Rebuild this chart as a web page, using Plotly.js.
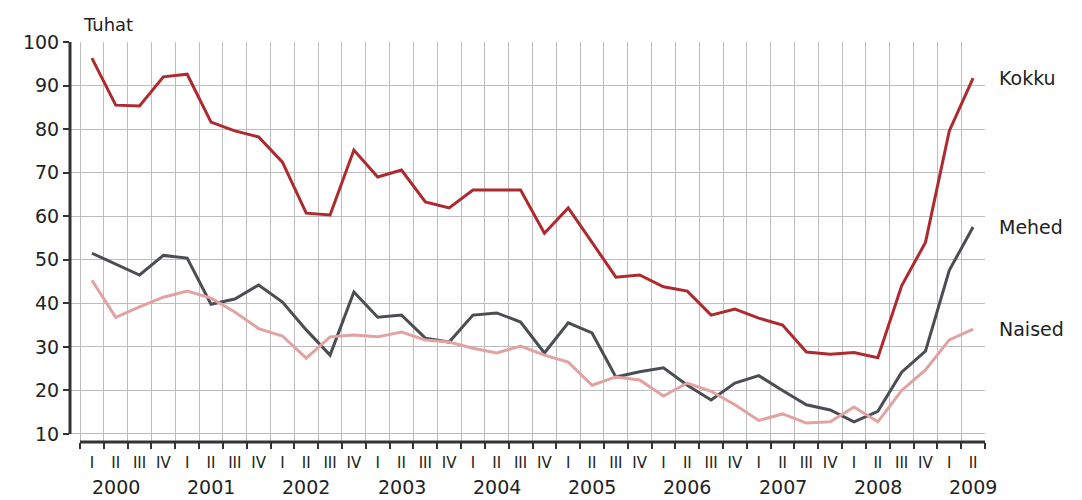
<!DOCTYPE html>
<html>
<head>
<meta charset="utf-8">
<script src="https://cdn.plot.ly/plotly-3.0.1.min.js"></script>
<style>html,body{margin:0;padding:0;background:#fff;}#chart{width:1082px;height:500px;}</style>
</head>
<body>
<div id="chart"></div>
<script>
// Data: quarterly, 2000 Q1 .. 2009 Q2 (thousands)
const years = ["2000","2001","2002","2003","2004","2005","2006","2007","2008","2009"];
const quarterNames = ["I","II","III","IV"];
const kokku = [96.3, 85.5, 85.3, 92.0, 92.6, 81.6, 79.6, 78.2, 72.4, 60.7, 60.3, 75.2,
               69.0, 70.6, 63.3, 61.9, 66.0, 66.0, 66.0, 56.1, 61.9, 54.0, 46.0, 46.5,
               43.8, 42.8, 37.3, 38.7, 36.6, 35.0, 28.8, 28.3, 28.7, 27.5, 44.0, 54.0,
               79.6, 91.7];
const mehed = [51.5, 49.0, 46.5, 51.0, 50.4, 39.8, 41.0, 44.2, 40.3, 33.9, 28.1, 42.6,
               36.8, 37.3, 32.0, 31.1, 37.3, 37.8, 35.7, 28.6, 35.5, 33.2, 23.1, 24.3,
               25.2, 21.2, 17.8, 21.7, 23.4, 20.0, 16.7, 15.5, 12.8, 15.2, 24.2, 29.0,
               47.6, 57.5];
const naised = [45.3, 36.8, 39.2, 41.4, 42.8, 41.2, 38.0, 34.2, 32.5, 27.4, 32.3, 32.7,
                32.3, 33.4, 31.6, 31.1, 29.7, 28.6, 30.2, 28.1, 26.5, 21.2, 23.1, 22.4,
                18.7, 21.7, 19.8, 16.7, 13.1, 14.6, 12.5, 12.8, 16.2, 12.8, 20.0, 24.7,
                31.6, 34.1];
const seriesNames = ["Kokku", "Mehed", "Naised"];
const unitLabel = "Tuhat";

// Build category labels
const cats = [];
const catText = [];
for (let i = 0; i < kokku.length; i++) {
  const y = years[Math.floor(i / 4)];
  const q = quarterNames[i % 4];
  cats.push(y + " " + q);
  catText.push(q);
}

const colors = ["#ad2a2e", "#4a4d52", "#e2a2a2"];
const FONT = "DejaVu Sans, Arial, sans-serif";
const allSeries = [kokku, mehed, naised];

const traces = allSeries.map((vals, k) => ({
  type: "scatter", mode: "lines", x: cats, y: vals, name: seriesNames[k],
  line: {color: colors[k], width: 3}, hoverinfo: "skip"
}));

const annotations = [];
// unit label
annotations.push({text: unitLabel, xref: "paper", yref: "paper", x: 0.012, y: 1.045,
  xanchor: "left", yanchor: "middle", showarrow: false, font: {family: FONT, size: 18, color: "#222"}});
// year labels, centered at quarter II of each year
years.forEach((y, k) => {
  annotations.push({text: y, xref: "x", yref: "paper", x: 4 * k + 1, y: -0.1125,
    xanchor: "center", yanchor: "middle", showarrow: false, font: {family: FONT, size: 19, color: "#222"}});
});
// series labels at right, aligned with last values
allSeries.forEach((vals, k) => {
  annotations.push({text: seriesNames[k], xref: "paper", yref: "y", x: 1.013, y: vals[vals.length - 1],
    xanchor: "left", yanchor: "middle", showarrow: false, font: {family: FONT, size: 19, color: "#222"}});
});

const layout = {
  width: 1082, height: 500,
  margin: {l: 70, r: 97, t: 42, b: 58},
  paper_bgcolor: "#fff", plot_bgcolor: "#fff",
  showlegend: false,
  font: {family: FONT, color: "#222"},
  xaxis: {
    type: "category", categoryorder: "array", categoryarray: cats,
    range: [-0.92, cats.length - 0.5],
    tickmode: "array", tickvals: cats, ticktext: catText,
    tickson: "boundaries", ticks: "outside", ticklen: 6, tickwidth: 2, tickcolor: "#333",
    tickangle: 0, ticklabelstandoff: 10,
    showgrid: true, gridcolor: "#bdbdbd", gridwidth: 1,
    showline: false, zeroline: false,
    tickfont: {family: FONT, size: 15, color: "#222"}
  },
  yaxis: {
    range: [8.16, 100], tickmode: "array", tickvals: [10,20,30,40,50,60,70,80,90,100],
    ticks: "outside", ticklen: 6, tickwidth: 2, tickcolor: "#333",
    showgrid: true, gridcolor: "#bdbdbd", gridwidth: 1,
    showline: false, zeroline: false,
    tickfont: {family: FONT, size: 19, color: "#222"}
  },
  shapes: [
    {type: "line", xref: "paper", yref: "y", x0: 0, x1: 0, y0: 10, y1: 100,
     line: {color: "#333", width: 3}},
    {type: "line", xref: "x", yref: "paper", x0: -0.5, x1: cats.length - 0.5, y0: 0, y1: 0,
     line: {color: "#333", width: 3}}
  ],
  annotations: annotations
};

Plotly.newPlot("chart", traces, layout, {displayModeBar: false, staticPlot: true});
</script>
</body>
</html>
